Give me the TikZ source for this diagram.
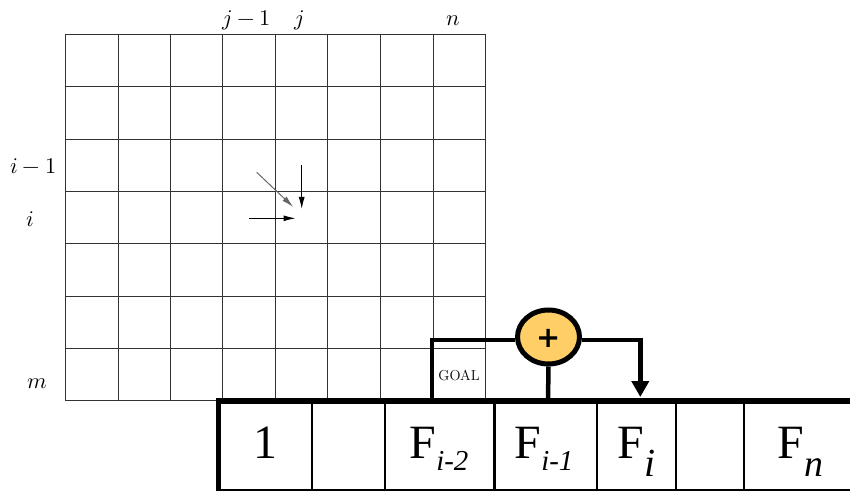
\documentclass[tikz,border=0pt]{standalone}
\usepackage{fontspec}
\usepackage{unicode-math}
\newfontfamily\tnr{Liberation Serif}
\newfontfamily\tnri{Liberation Serif Italic}
\newfontfamily\djv{DejaVu Sans}
\usetikzlibrary{arrows.meta,shapes.geometric}
\definecolor{plusfill}{RGB}{255,206,102}
\definecolor{gridgray}{RGB}{50,50,50}
\begin{document}
\begin{tikzpicture}[x=1bp,y=-1bp,
  gridline/.style={draw=gridgray,line width=1.25bp},
  smallarrow/.style={line width=1bp,-{Latex[length=12bp,width=6bp]}},
  axislabel/.style={font=\fontsize{22.5}{22.5}\selectfont,inner sep=0pt,anchor=base},
  conn/.style={line width=4.5bp,line join=miter},
  arrayedge/.style={line width=5.5bp},
  divider/.style={line width=2.3bp},
  celltext/.style={font=\tnr\fontsize{48}{48}\selectfont,inner sep=0pt,anchor=base west},
  plusnode/.style={ellipse,draw,line width=5bp,fill=plusfill,minimum width=62bp,minimum height=54bp,inner sep=0pt},
]
\useasboundingbox (0,0) rectangle (850,491);

% grid
\foreach \xx in {65.5,118.5,170.5,222.5,275.5,327.5,380.5,433.5,485.5}
  \draw[gridline] (\xx,34.5) -- (\xx,400.5);
\foreach \yy in {34.5,86.5,139.5,191.5,243.5,296.5,348.5,400.5}
  \draw[gridline] (65.5,\yy) -- (485.5,\yy);

% axis labels
\node[axislabel] (ljm) at (246.7,26) {$j-1$};
\node[axislabel] (lj)  at (299,26) {$j$};
\node[axislabel] (ln)  at (453.3,26) {$n$};
\node[axislabel] (lim) at (33.3,173.3) {$i-1$};
\node[axislabel] (li)  at (30.8,226.7) {$i$};
\node[axislabel] (lm)  at (37.5,388.3) {$m$};

% small arrows into cell (i,j)
\coordinate (dA) at (256.7,172.3);
\coordinate (dB) at (293.3,207);
\coordinate (vA) at (301.7,165);
\coordinate (vB) at (301.7,209);
\coordinate (hA) at (249,218.3);
\coordinate (hB) at (295.5,218.3);
\draw[smallarrow,draw=black!60] (dA) -- (dB);
\draw[smallarrow] (vA) -- (vB);
\draw[smallarrow] (hA) -- (hB);

% GOAL
\node[font=\fontsize{14.5}{14.5}\selectfont,inner sep=0pt,anchor=base] (goal) at (459,380) {GOAL};

% array
\coordinate (arrTL) at (216,401);
\coordinate (arrTR) at (850,401);
\coordinate (arrLT) at (218.5,398.3);
\coordinate (arrLB) at (218.5,491);
\coordinate (arrBL) at (216,489.8);
\coordinate (arrBR) at (850,489.8);
\draw[divider] (arrBL) -- (arrBR);
\foreach \xx in {312,385,494.5,597,676,744.3}
  \draw[divider] (\xx,401) -- (\xx,490);
\draw[arrayedge] (arrTL) -- (arrTR);
\draw[line width=5bp] (arrLT) -- (arrLB);

% cell texts
\node[celltext,anchor=base] (c1) at (265.5,458.3) {1};
\node[celltext] (c3) at (409.5,458.3) {F\raisebox{-11.7bp}{\tnri\fontsize{29}{29}\selectfont i-2}};
\node[celltext] (c4) at (514.5,458.3) {F\raisebox{-11.7bp}{\tnri\fontsize{29}{29}\selectfont i-1}};
\node[celltext] (c5) at (617.5,458.3) {F\raisebox{-18.4bp}{\tnri\fontsize{40}{40}\selectfont i}};
\node[celltext] (c7) at (777.5,458.3) {F\raisebox{-18.4bp}{\tnri\fontsize{38}{38}\selectfont n}};

% plus node and connectors
\node[plusnode] (plus) at (548.5,337) {};
\node[font=\djv\bfseries\fontsize{29}{29}\selectfont,inner sep=0pt] (plussign) at (548.3,338.3) {+};
\coordinate (goalBase) at (432,401);
\coordinate (goalTop) at (432,340);
\coordinate (outCorner) at (640.3,340);
\coordinate (outTip) at (640.3,397);
\coordinate (midBase) at (548,401);
\draw[conn] (goalBase) -- (goalTop) -- (plus.west |- goalTop);
\draw[conn] (plus.south) -- (midBase);
\draw[conn,-{Triangle[length=16bp,width=17bp]}] (plus.east |- goalTop) -- (outCorner) -- (outTip);
\end{tikzpicture}
\end{document}
